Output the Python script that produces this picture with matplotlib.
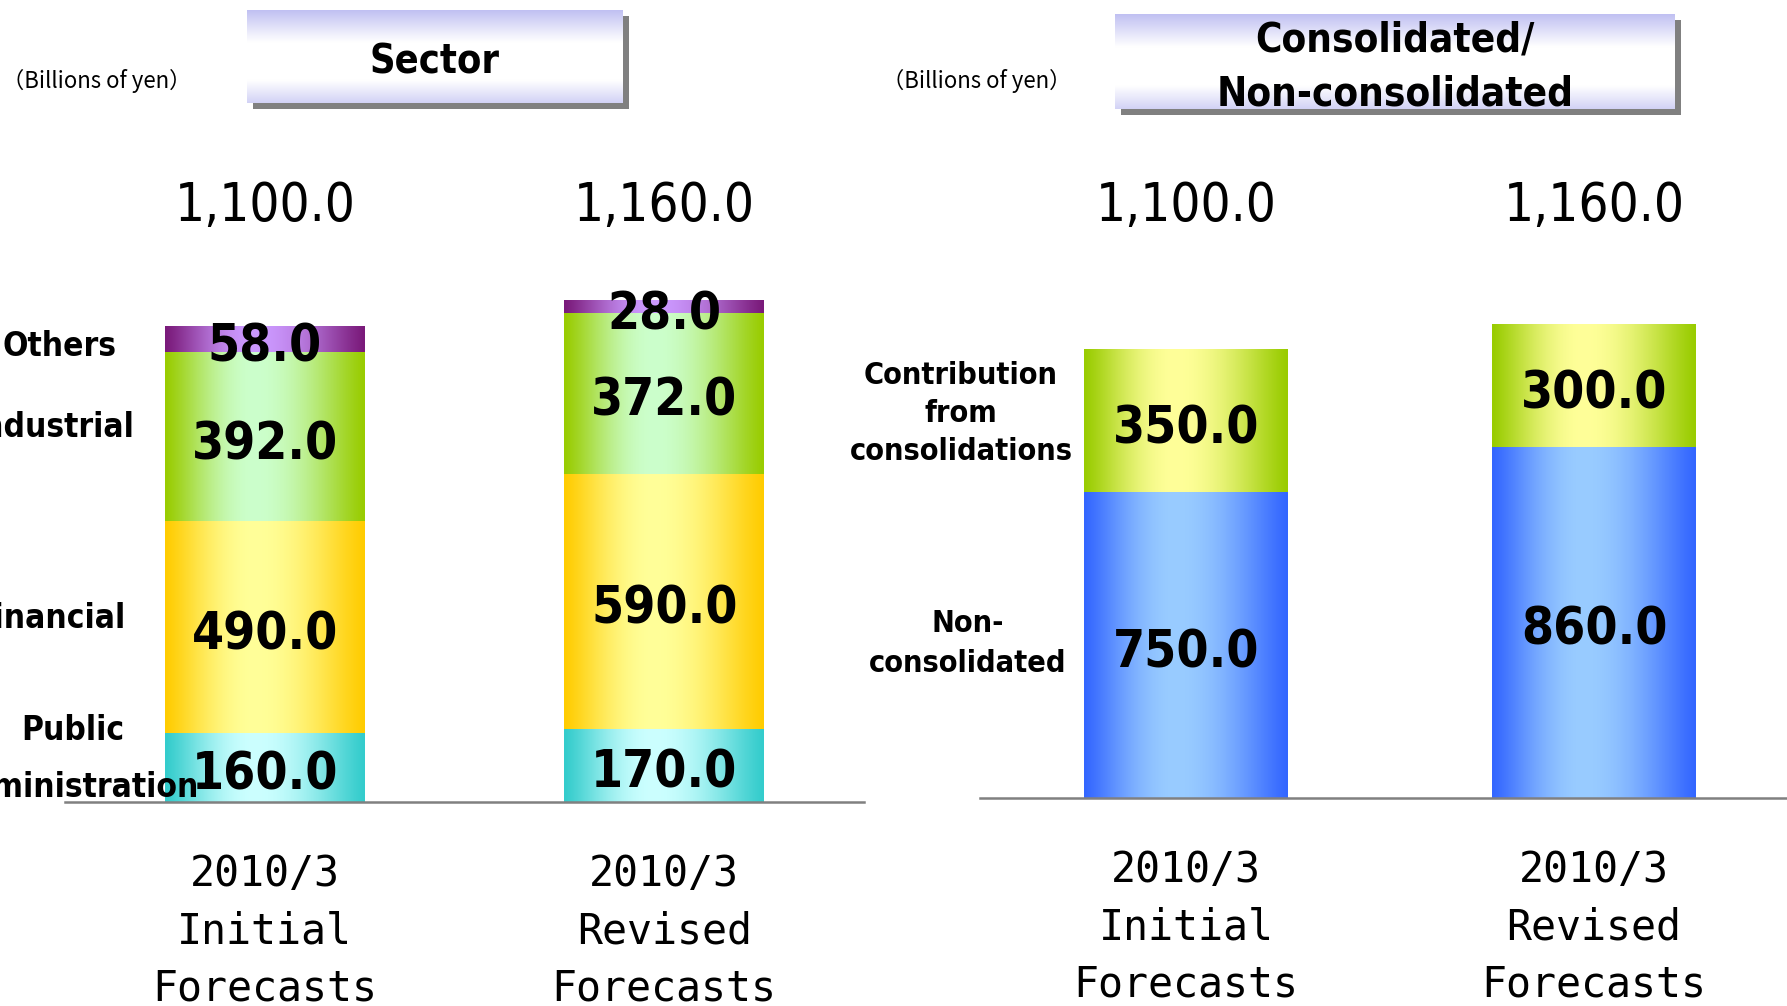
import matplotlib
matplotlib.use("Agg")
from matplotlib import pyplot as plt
from matplotlib import transforms
from matplotlib.colors import to_rgb
from matplotlib.patches import Rectangle
import numpy as np

# data
periods = ["2010/3\nInitial\nForecasts", "2010/3\nRevised\nForecasts"]

sector_names = ["Public\nAdministration", "Financial", "Industrial", "Others"]
public_admin = [160.0, 170.0]
financial = [490.0, 590.0]
industrial = [392.0, 372.0]
others = [58.0, 28.0]
sector_totals = [1100.0, 1160.0]

consol_names = ["Non-\nconsolidated", "Contribution\nfrom\nconsolidations"]
non_consolidated = [750.0, 860.0]
contribution = [350.0, 300.0]
consol_totals = [1100.0, 1160.0]

# gradient colours: (edge, centre)
sector_colors = [("#33cccc", "#ccffff"), ("#ffcc00", "#ffff99"),
                 ("#99cc00", "#ccffcc"), ("#7a1a7a", "#cc99ff")]
consol_colors = [("#3366ff", "#99ccff"), ("#99cc00", "#ffff99")]

W, H = 1787, 1006
BOLD = dict(family="DejaVu Sans", fontstretch="condensed", fontweight="bold")
REG = dict(family="DejaVu Sans", fontstretch="condensed")


def fx(px):
    return px / W


def fy(py):
    return 1 - py / H


def h_gradient(edge, centre, n=256, peak=0.45):
    t = np.linspace(0, 1, n)
    w = np.where(t < peak, t / peak, (1 - t) / (1 - peak))
    w = np.sin(w * np.pi / 2) ** 1.2
    e, c = np.array(to_rgb(edge)), np.array(to_rgb(centre))
    return (e[None, :] * (1 - w[:, None]) + c[None, :] * w[:, None])[None, :, :]


def paint_bars(ax, bars, edge, centre):
    img = h_gradient(edge, centre)
    for p in bars:
        x0, y0 = p.get_x(), p.get_y()
        ax.imshow(img, extent=(x0, x0 + p.get_width(), y0, y0 + p.get_height()),
                  aspect="auto", interpolation="bilinear", zorder=2)
        p.set_facecolor("none")


def title_box(x0, y0, x1, y1, text, size, ls):
    sax = fig.add_axes([fx(x0 + 6), fy(y1 + 6), fx(x1 - x0), (y1 - y0) / H])
    sax.add_patch(Rectangle((0, 0), 1, 1, color="#808080"))
    sax.axis("off")
    sax.set_zorder(1)
    bax = fig.add_axes([fx(x0), fy(y1), fx(x1 - x0), (y1 - y0) / H])
    bax.set_zorder(2)
    t = np.linspace(0, 1, 200)
    w = 1 - np.abs(t - 0.55) / 0.55
    w = np.clip(w * 1.6, 0, 1)
    e, c = np.array(to_rgb("#c0c0f2")), np.array([1.0, 1.0, 1.0])
    img = (e[None, :] * (1 - w[:, None]) + c[None, :] * w[:, None])[:, None, :]
    bax.imshow(img, extent=(0, 1, 0, 1), aspect="auto", interpolation="bilinear")
    bax.set_xlim(0, 1)
    bax.set_ylim(0, 1)
    bax.axis("off")
    bax.text(0.5, 0.44, text, ha="center", va="center", fontsize=size,
             linespacing=ls, **BOLD)


def stacked_panel(ax, layers, colors, totals, ylim, xlim):
    x = np.arange(len(periods))
    bottom = np.zeros(len(periods))
    for vals, (edge, centre) in zip(layers, colors):
        bars = ax.bar(x, vals, 0.5, bottom=bottom, linewidth=0)
        paint_bars(ax, bars, edge, centre)
        for xi, b, v in zip(x, bottom, vals):
            ax.annotate(f"{v:.1f}", (xi, b + v / 2), xytext=(0, -6),
                        textcoords="offset points", ha="center", va="center",
                        fontsize=37, zorder=4, **BOLD)
        bottom = bottom + np.array(vals)
    trans = transforms.blended_transform_factory(ax.transData, fig.transFigure)
    for xi, tot in zip(x, totals):
        ax.text(xi, fy(206), f"{tot:,.1f}", transform=trans, ha="center",
                va="center", fontsize=38, **REG)
    ax.set_xlim(*xlim)
    ax.set_ylim(*ylim)
    ax.set_xticks(x, periods, family="DejaVu Sans Mono", fontsize=30,
                  linespacing=1.45)
    ax.tick_params(axis="x", length=0, pad=37)
    ax.set_yticks([])
    for s in ["top", "left", "right"]:
        ax.spines[s].set_visible(False)
    ax.spines["bottom"].set_color("#808080")
    ax.spines["bottom"].set_linewidth(1.8)
    ax.spines["bottom"].set_zorder(3)


fig = plt.figure(figsize=(W / 100, H / 100), dpi=100)

# left: sector
ax1 = fig.add_axes([fx(65), fy(802), fx(799), 702 / H])
sector_layers = [public_admin, financial, industrial, others]
stacked_panel(ax1, sector_layers, sector_colors, sector_totals,
              (0, 1626), (-0.5, 1.5))

# right: consolidated / non-consolidated
ax2 = fig.add_axes([fx(980), fy(798), fx(807), 700 / H])
consol_layers = [non_consolidated, contribution]
stacked_panel(ax2, consol_layers, consol_colors, consol_totals,
              (0, 1716), (-0.505, 1.473))

# segment names beside the first bar of each panel
trans1 = transforms.blended_transform_factory(fig.transFigure, ax1.transData)
base = 0.0
left_style = {"Public\nAdministration": (199, 6, 1.95), "Financial": (125, 6, 1.2),
              "Industrial": (134, 7, 1.2), "Others": (117, -5, 1.2)}
for name, vals in zip(sector_names, sector_layers):
    xp, dy, ls = left_style[name]
    tr = transforms.offset_copy(trans1, fig=fig, x=0, y=dy, units="points")
    ax1.text(fx(xp), base + vals[0] / 2, name, transform=tr,
             ha="right", va="center", multialignment="center", fontsize=24,
             linespacing=ls, zorder=5, **BOLD)
    base += vals[0]

trans2 = transforms.blended_transform_factory(fig.transFigure, ax2.transData)
base = 0.0
right_style = [(968, 1, 1.5), (961, 5, 1.38)]
for name, vals, (xp, dy, ls) in zip(consol_names, consol_layers, right_style):
    tr = transforms.offset_copy(trans2, fig=fig, x=0, y=dy, units="points")
    ax2.text(fx(xp), base + vals[0] / 2, name, transform=tr,
             ha="center", va="center", multialignment="center", fontsize=22,
             linespacing=ls, **BOLD)
    base += vals[0]

# units
for xp in [2, 882]:
    fig.text(fx(xp), fy(81), "（Billions of yen）", ha="left", va="center",
             fontsize=16, family=["Noto Sans CJK JP", "DejaVu Sans"])

title_box(247, 10, 623, 103, "Sector", 28.5, 1.15)
title_box(1115, 14, 1675, 109, "Consolidated/\nNon-consolidated", 29, 1.45)

fig.savefig("out.png", dpi=100)
